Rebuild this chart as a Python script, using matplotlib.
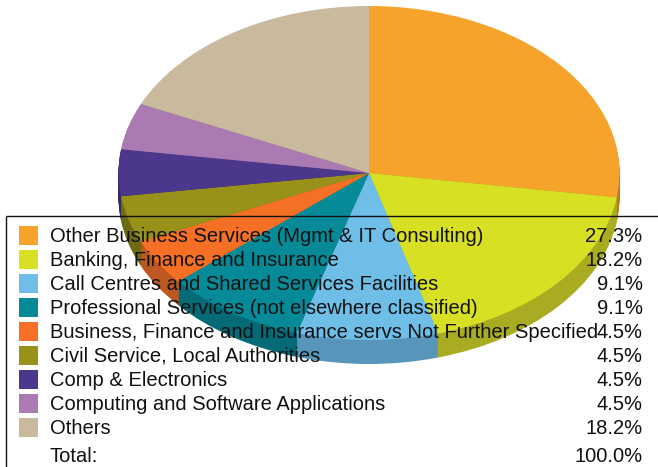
import matplotlib
matplotlib.use("Agg")
import matplotlib.pyplot as plt
import numpy as np

categories = ["Other Business Services (Mgmt & IT Consulting)", "Banking, Finance and Insurance",
              "Call Centres and Shared Services Facilities", "Professional Services (not elsewhere classified)",
              "Business, Finance and Insurance servs Not Further Specified", "Civil Service, Local Authorities",
              "Comp & Electronics", "Computing and Software Applications", "Others"]
shares = [27.3, 18.2, 9.1, 9.1, 4.5, 4.5, 4.5, 4.5, 18.2]
share_labels = ["27.3%", "18.2%", "9.1%", "9.1%", "4.5%", "4.5%", "4.5%", "4.5%", "18.2%"]
total_label = "Total:"
total_value = "100.0%"
top_colors = ["#F6A32C", "#D8E024", "#6EBEE8", "#068A98", "#F57025", "#99921A", "#4B378B", "#AC7AB2", "#C9BA9E"]
wall_colors = ["#B57A22", "#A9AC20", "#5795BA", "#046A76", "#BC5820", "#6F6A14", "#37285F", "#7F5A84", "#948970"]

W, H = 658, 467
CX, CY, RX, RY, DEPTH = 369, 173, 250.5, 167, 24
plt.rcParams["font.family"] = ["Liberation Sans", "DejaVu Sans"]
fig = plt.figure(figsize=(W / 100, H / 100), dpi=100, facecolor="white")

ax = fig.add_axes([0, 0, 1, 1])
for off in np.arange(DEPTH, 0, -1.0):
    ax.pie(shares, colors=wall_colors, startangle=90, counterclock=False, normalize=True,
           center=(0, -off / RY), wedgeprops={"linewidth": 0})
ax.pie(shares, colors=top_colors, startangle=90, counterclock=False, normalize=True,
       wedgeprops={"linewidth": 0})
ax.set_aspect("auto")
ax.set_xlim(-CX / RX, (W - CX) / RX)
ax.set_ylim((CY - H) / RY, CY / RY)

ov = fig.add_axes([0, 0, 1, 1], facecolor="none")
ov.set_xlim(0, W)
ov.set_ylim(H, 0)
ov.axis("off")
ov.plot([5.5, W], [216, 216], color="#111111", lw=1.0, solid_capstyle="butt")
ov.plot([5.5, 5.5], [216, H], color="#111111", lw=1.0, solid_capstyle="butt")
rows = [235.5, 259.5, 283.5, 307.5, 331.5, 355.5, 379.5, 403.5, 427.5]
FS = 14.5
for y, c, name, lab in zip(rows, top_colors, categories, share_labels):
    ov.add_patch(plt.Rectangle((19, y - 9.5), 19, 19, facecolor=c, edgecolor="none"))
    ov.text(50, y + 1, name, fontsize=FS, va="center", ha="left", color="#111111")
    ov.text(642.5, y + 1, lab, fontsize=FS, va="center", ha="right", color="#111111")
ov.text(50, 456, total_label, fontsize=FS, va="center", ha="left", color="#111111")
ov.text(642.5, 456, total_value, fontsize=FS, va="center", ha="right", color="#111111")

fig.savefig("out.png", dpi=100)
